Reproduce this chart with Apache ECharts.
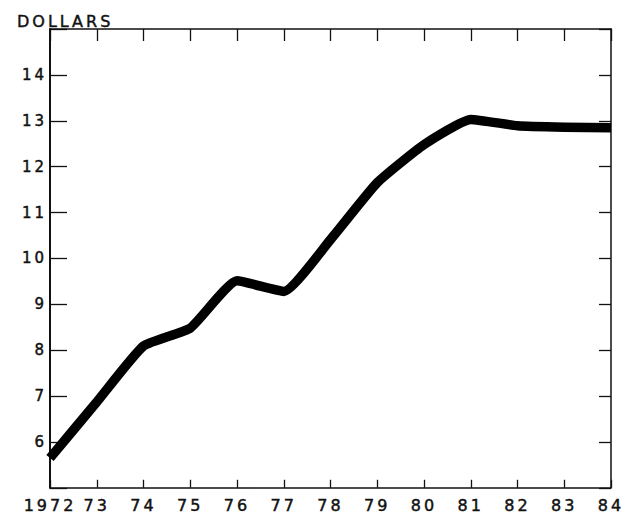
<!DOCTYPE html>
<html>
<head>
<meta charset="utf-8">
<script src="https://cdn.jsdelivr.net/npm/echarts@6/dist/echarts.min.js"></script>
<style>
  html, body { margin: 0; padding: 0; background: #fff; }
  #chart { width: 625px; height: 514px; letter-spacing: 3px; }
</style>
</head>
<body>
<div id="chart"></div>
<script>
var years = [1972, 1973, 1974, 1975, 1976, 1977, 1978, 1979, 1980, 1981, 1982, 1983, 1984];
var dollars = [5.65, 6.87, 8.09, 8.48, 9.51, 9.28, 10.41, 11.65, 12.48, 13.03, 12.89, 12.86, 12.85];
var yTickLabels = [6, 7, 8, 9, 10, 11, 12, 13, 14];
var yLabelText = 'DOLLARS';

var seriesData = years.map(function (y, i) { return [y, dollars[i]]; });

var chart = echarts.init(document.getElementById('chart'), null, { renderer: 'svg' });
var ink = '#111';
var fam = 'DejaVu Sans, Liberation Sans, Arial, sans-serif';
var heavy = { textBorderColor: ink, textBorderWidth: 0.45 };

chart.setOption({
  animation: false,
  backgroundColor: '#fff',
  title: {
    text: yLabelText,
    left: 12,
    top: 8,
    textStyle: Object.assign({ color: ink, fontFamily: fam, fontSize: 16, fontWeight: 'normal' }, heavy)
  },
  grid: { left: 50, top: 29, right: 14, bottom: 26, containLabel: false },
  xAxis: [{
    type: 'value', position: 'bottom', min: 1972, max: 1984, interval: 1,
    axisLine: { lineStyle: { color: ink, width: 1.5 } },
    axisTick: { inside: true, length: 8, lineStyle: { color: ink, width: 1.3 } },
    splitLine: { show: false },
    axisLabel: Object.assign({
      margin: 10, color: ink, fontFamily: fam, fontSize: 16,
      formatter: function (v) { return v === 1972 ? String(v) : String(v).slice(2); }
    }, heavy)
  }, {
    type: 'value', position: 'top', min: 1972, max: 1984, interval: 1,
    axisLine: { lineStyle: { color: ink, width: 1.5 } },
    axisTick: { inside: true, length: 12, lineStyle: { color: ink, width: 1.3 } },
    splitLine: { show: false },
    axisLabel: { show: false }
  }],
  yAxis: [{
    type: 'value', position: 'left', min: 5, max: 15, interval: 1,
    axisLine: { show: true, lineStyle: { color: ink, width: 2 } },
    axisTick: { show: true, inside: true, length: 17, lineStyle: { color: ink, width: 1.3 } },
    splitLine: { show: false },
    axisLabel: Object.assign({
      margin: 3, color: ink, fontFamily: fam, fontSize: 15,
      formatter: function (v) { return yTickLabels.indexOf(v) >= 0 ? String(v) : ''; }
    }, heavy)
  }, {
    type: 'value', position: 'right', min: 5, max: 15, interval: 1,
    axisLine: { show: true, lineStyle: { color: ink, width: 1.5 } },
    axisTick: { show: true, inside: true, length: 12, lineStyle: { color: ink, width: 1.3 } },
    splitLine: { show: false },
    axisLabel: { show: false }
  }],
  series: [{
    type: 'line',
    xAxisIndex: 0,
    yAxisIndex: 0,
    data: seriesData,
    showSymbol: false,
    symbol: 'none',
    smooth: 0.15,
    lineStyle: { color: '#000', width: 9.5, join: 'round', cap: 'butt' }
  }]
});
</script>
</body>
</html>
